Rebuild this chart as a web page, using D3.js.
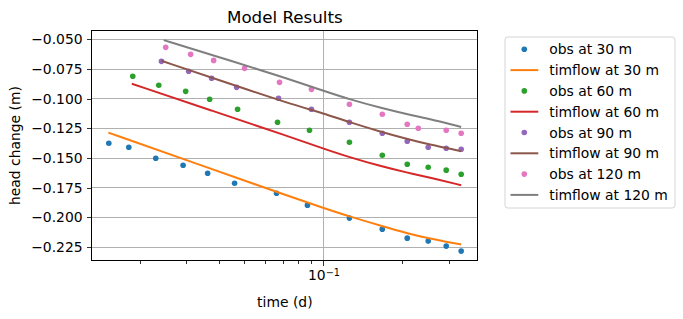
<!DOCTYPE html>
<html lang="en">
<head>
	<meta charset="utf-8">
	<title>Model Results</title>
	<script src="https://d3js.org/d3.v7.min.js"></script>
	<style type="text/css">
		body { margin: 0; background: #fff; }
		svg { font-family: "DejaVu Sans", sans-serif; }
		.Axis path, .Axis line { fill: none; stroke: #000; stroke-width: 0.8; shape-rendering: crispEdges; }
		.Axis text { font-size: 13.9px; fill: #000; font-family: "DejaVu Sans", sans-serif; }
		.grid line { stroke: #b0b0b0; stroke-width: 1; shape-rendering: crispEdges; }
	</style>
</head>
<body>
	<svg id="placeholder1"></svg>

	<script type="text/javascript">
		//============================================================
		//                          data
		//============================================================

		// observations (time in days, head change in m)
		var obs30Time = [0.01522, 0.01814, 0.02298, 0.02920, 0.03622, 0.04587, 0.06628, 0.08692, 0.1256, 0.1676, 0.2086, 0.2507, 0.2936, 0.3348]
		var obs30Head = [-0.1375, -0.1409, -0.1501, -0.1560, -0.1628, -0.1712, -0.1796, -0.1897, -0.2006, -0.2099, -0.2175, -0.2200, -0.2242, -0.2284]

		var obs60Time = [0.01878, 0.02359, 0.02987, 0.03686, 0.04710, 0.06686, 0.08847, 0.1256, 0.1676, 0.2086, 0.2507, 0.2936, 0.3348]
		var obs60Head = [-0.0811, -0.0887, -0.0938, -0.1005, -0.1089, -0.1198, -0.1266, -0.1367, -0.1476, -0.1552, -0.1577, -0.1602, -0.1636]

		var obs90Time = [0.02415, 0.03066, 0.03751, 0.04670, 0.06745, 0.09003, 0.1256, 0.1676, 0.2086, 0.2507, 0.2936, 0.3348]
		var obs90Head = [-0.0685, -0.0769, -0.0828, -0.0904, -0.0996, -0.1089, -0.1198, -0.1291, -0.1358, -0.1409, -0.1417, -0.1426]

		var obs120Time = [0.02507, 0.03120, 0.03818, 0.05007, 0.06804, 0.09003, 0.1256, 0.1676, 0.2086, 0.2298, 0.2936, 0.3348]
		var obs120Head = [-0.0567, -0.0626, -0.0677, -0.0744, -0.0862, -0.0921, -0.1047, -0.1131, -0.1215, -0.1249, -0.1266, -0.1291]

		// timflow model curves
		var sim30Time = [0.01516, 0.03398, 0.07468, 0.1, 0.1256, 0.1676, 0.2086, 0.2507, 0.2946, 0.3348]
		var sim30Head = [-0.1286, -0.1559, -0.1825, -0.1920, -0.1992, -0.2074, -0.2134, -0.2175, -0.2206, -0.2228]

		var sim60Time = [0.01862, 0.03709, 0.07468, 0.1, 0.1256, 0.1676, 0.2086, 0.2507, 0.3348]
		var sim60Head = [-0.0874, -0.1096, -0.1322, -0.1420, -0.1493, -0.1572, -0.1623, -0.1661, -0.1729]

		var sim90Time = [0.02415, 0.04229, 0.07468, 0.1, 0.1256, 0.1676, 0.2086, 0.2507, 0.3348]
		var sim90Head = [-0.0680, -0.0861, -0.1044, -0.1123, -0.1198, -0.1283, -0.1339, -0.1384, -0.1442]

		var sim120Time = [0.02464, 0.04048, 0.06845, 0.1, 0.1256, 0.1676, 0.2086, 0.2507, 0.3348]
		var sim120Head = [-0.0506, -0.0653, -0.0809, -0.0933, -0.1005, -0.1081, -0.1131, -0.1168, -0.1238]

		// tick values
		var yTicks = [-0.225, -0.200, -0.175, -0.150, -0.125, -0.100, -0.075, -0.050]
		var xMajorTicks = [0.1]
		var xMinorTicks = [0.02, 0.03, 0.04, 0.05, 0.06, 0.07, 0.08, 0.09, 0.2, 0.3]

		var legendLabels = ["obs at 30 m", "timflow at 30 m", "obs at 60 m", "timflow at 60 m",
							"obs at 90 m", "timflow at 90 m", "obs at 120 m", "timflow at 120 m"]

		//============================================================
		//                          init
		//============================================================

		var blue = "#1f77b4", orange = "#ff7f0e", green = "#2ca02c", red = "#d62728"
		var purple = "#9467bd", brown = "#8c564b", pink = "#e377c2", gray = "#7f7f7f"

		var wholeW = 683
		var wholeH = 319
		var margin = {left: 91.7, right: 205, top: 30.5, bottom: 58.3}
		var width = wholeW - margin.left - margin.right
		var height = wholeH - margin.top - margin.bottom

		var xScale = d3.scaleLog().domain([0.0131, 0.388]).range([0, width])
		var yScale = d3.scaleLinear().domain([-0.2365, -0.0425]).range([height, 0])

		var zip = (ts, hs) => ts.map((t, i) => ({t: t, h: hs[i]}))

		// draw order as in the original: obs then model per distance
		var series = [
			{type: "obs", data: zip(obs30Time, obs30Head), color: blue},
			{type: "sim", data: zip(sim30Time, sim30Head), color: orange},
			{type: "obs", data: zip(obs60Time, obs60Head), color: green},
			{type: "sim", data: zip(sim60Time, sim60Head), color: red},
			{type: "obs", data: zip(obs90Time, obs90Head), color: purple},
			{type: "sim", data: zip(sim90Time, sim90Head), color: brown},
			{type: "obs", data: zip(obs120Time, obs120Head), color: pink},
			{type: "sim", data: zip(sim120Time, sim120Head), color: gray}
		]

		var line = d3.line()
			.curve(d3.curveBasis)
			.x(d => xScale(d.t))
			.y(d => yScale(d.h))

		var root = d3.select("#placeholder1")
			.attr("width", wholeW)
			.attr("height", wholeH)

		var svg = root.append("g")
			.attr("transform", "translate(" + margin.left + "," + margin.top + ")")

		//============================================================
		//                          draw
		//============================================================

		// grid
		svg.append("g").attr("class", "grid")
			.selectAll("line").data(yTicks).join("line")
			.attr("x1", 0).attr("x2", width)
			.attr("y1", d => yScale(d)).attr("y2", d => yScale(d))
		svg.append("g").attr("class", "grid")
			.selectAll("line").data(xMajorTicks).join("line")
			.attr("x1", d => xScale(d)).attr("x2", d => xScale(d))
			.attr("y1", 0).attr("y2", height)

		// series
		series.forEach(s => {
			if (s.type === "obs") {
				svg.append("g").selectAll("circle").data(s.data).join("circle")
					.attr("cx", d => xScale(d.t))
					.attr("cy", d => yScale(d.h))
					.attr("r", 2.8)
					.attr("fill", s.color)
			} else {
				svg.append("path")
					.attr("d", line(s.data))
					.attr("fill", "none")
					.attr("stroke", s.color)
					.attr("stroke-width", 2)
			}
		})

		// frame
		svg.append("rect")
			.attr("width", width).attr("height", height)
			.attr("fill", "none").attr("stroke", "#000").attr("stroke-width", 1)
			.attr("shape-rendering", "crispEdges")

		// axes
		var yAxis = d3.axisLeft(yScale).tickValues(yTicks).tickSize(4.9).tickPadding(4.2)
			.tickFormat(d => d3.format(".3f")(d).replace("-", "\u2212"))
		svg.append("g").attr("class", "y Axis").call(yAxis).select(".domain").remove()

		var xAxis = d3.axisBottom(xScale).tickValues(xMajorTicks).tickSize(4.9).tickPadding(4.9)
			.tickFormat("")
		var gx = svg.append("g").attr("class", "x Axis")
			.attr("transform", "translate(0," + height + ")")
			.call(xAxis)
		gx.select(".domain").remove()
		gx.selectAll(".tick text").each(function () {
			var t = d3.select(this)
			t.append("tspan").text("10")
			t.append("tspan").attr("dy", "-0.45em").style("font-size", "9.7px").text("\u22121")
		})

		var xMinor = d3.axisBottom(xScale).tickValues(xMinorTicks).tickSize(2.8).tickFormat("")
		svg.append("g").attr("class", "x Axis")
			.attr("transform", "translate(0," + height + ")")
			.call(xMinor).select(".domain").remove()

		// labels
		root.append("text")
			.attr("x", margin.left + width / 2).attr("y", 22.5)
			.attr("text-anchor", "middle").style("font-size", "16.7px")
			.text("Model Results")

		root.append("text")
			.attr("x", margin.left + width / 2).attr("y", 306.5)
			.attr("text-anchor", "middle").style("font-size", "13.9px")
			.text("time (d)")

		root.append("text")
			.attr("transform", "translate(20," + (margin.top + height / 2) + ") rotate(-90)")
			.attr("text-anchor", "middle").style("font-size", "13.9px")
			.text("head change (m)")

		// legend
		var legend = root.append("g").attr("transform", "translate(505,37)")
		legend.append("rect")
			.attr("width", 170).attr("height", 171).attr("rx", 2.8)
			.attr("fill", "#fff").attr("stroke", "#d4d4d4").attr("stroke-width", 1)

		var items = legend.selectAll(".item").data(series).join("g")
			.attr("transform", (d, i) => "translate(0," + (12.3 + i * 20.8) + ")")
		items.each(function (d) {
			var g = d3.select(this)
			if (d.type === "obs") {
				g.append("circle").attr("cx", 19.3).attr("cy", 0).attr("r", 2.8).attr("fill", d.color)
			} else {
				g.append("line").attr("x1", 5.5).attr("x2", 33.3).attr("y1", 0).attr("y2", 0)
					.attr("stroke", d.color).attr("stroke-width", 2)
			}
		})
		items.append("text")
			.attr("x", 44.2).attr("y", 0).attr("dy", "0.36em")
			.style("font-size", "13.9px")
			.text((d, i) => legendLabels[i])
	</script>
</body>
</html>
